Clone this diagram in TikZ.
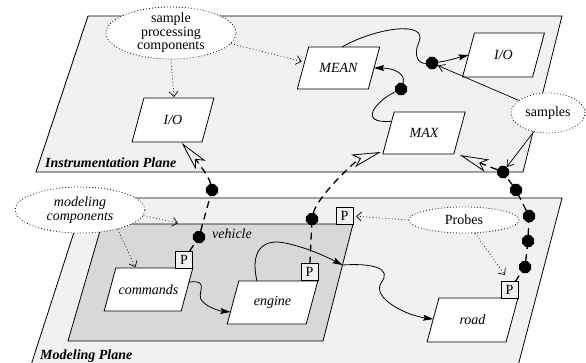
\documentclass[tikz,border=0pt]{standalone}
\usepackage{fontspec}
\setmainfont{Liberation Serif}
\usetikzlibrary{shapes.geometric,arrows.meta,calc}
\definecolor{planefill}{HTML}{F1F1F1}
\definecolor{groupfill}{HTML}{D8D8D8}
\newcommand{\lblfont}{\fontsize{14}{13.5}\selectfont}
% slanted component box: name, centre x, centre y, top edge length, height, label
\newcommand{\slantbox}[6]{%
  \path (#2,#3) +({-#4/2+0.135*#5},{-#5/2}) coordinate (#1-tl)
                +({#4/2+0.135*#5},{-#5/2}) coordinate (#1-tr)
                +({#4/2-0.135*#5},{#5/2}) coordinate (#1-br)
                +({-#4/2-0.135*#5},{#5/2}) coordinate (#1-bl);
  \draw[boxline] (#1-tl) -- (#1-tr) -- (#1-br) -- (#1-bl) -- cycle;
  \node[boxlabel] (#1) at (#2,#3) {#6};}
\begin{document}
\begin{tikzpicture}[x=1pt,y=-1pt,
  every node/.style={font=\lblfont},
  plane/.style={fill=planefill,draw=black,line width=0.8pt},
  planelabel/.style={anchor=base west,inner sep=0pt,font=\lblfont\bfseries\itshape},
  boxline/.style={draw=black,line width=0.8pt,fill=white},
  boxlabel/.style={inner sep=1pt,font=\lblfont\itshape},
  probe/.style={draw,line width=0.8pt,fill=planefill,minimum size=17pt,
    inner sep=0pt,outer sep=0pt},
  dot/.style={regular polygon,regular polygon sides=8,fill=black,
    minimum size=13pt,inner sep=0pt,outer sep=0pt},
  note/.style={ellipse,draw,line width=0.8pt,dash pattern=on 0.8pt off 2.2pt,
    fill=white,inner sep=0pt,align=center},
  notearrow/.style={line width=0.7pt,dash pattern=on 0.8pt off 2.4pt,
    -{Straight Barb[length=5pt,width=9pt]}},
  flow/.style={line width=0.8pt,-{Stealth[length=10pt,width=6pt,inset=1.5pt]}},
  wire/.style={line width=0.8pt},
  link/.style={line width=1.3pt,dash pattern=on 7pt off 5pt},
  bigtip/.style={-{Stealth[open,length=29pt,width=13pt,inset=7pt,line width=0.8pt]}},
  feed/.style={line width=0.7pt,-{Straight Barb[length=6pt,width=8pt]}}
]
\useasboundingbox (0,0) rectangle (586,362);
\clip (0,0) rectangle (586,362);

% the two planes and the vehicle group
\draw[plane] (88,16) -- (562,16) -- (523,172) -- (36,172) -- cycle;
\draw[plane] (85,198) -- (562,198) -- (516.4,372) -- (28.8,372) -- cycle;
\draw[line width=0.8pt,fill=groupfill] (102,224) -- (353,224) -- (323,341) -- (68,341) -- cycle;
\coordinate (vport) at (342.5,265);
\coordinate (vtop) at (178,223);

% plane and group labels
\node[planelabel] (iplane) at (45,167.5) {Instrumentation Plane};
\node[planelabel] (mplane) at (40,359) {Modeling Plane};
\node[anchor=base west,inner sep=0pt,font=\lblfont\itshape] (vlabel) at (212,238) {vehicle};

% components
\slantbox{io1}{173}{120}{70}{44}{I/O}
\slantbox{mean}{338.5}{68}{71}{42}{MEAN}
\slantbox{io2}{503.5}{55}{70}{44}{I/O}
\slantbox{max}{424}{133}{71}{42}{MAX}
\slantbox{commands}{148.5}{289.5}{77}{43}{commands}
\slantbox{engine}{272.5}{302.5}{79}{43}{engine}
\slantbox{road}{472.5}{320}{79}{44}{road}

% probes
\node[probe] (pcmd) at (184,259.5) {P};
\node[probe] (peng) at (309.5,272) {P};
\node[probe] (pveh) at (344.5,216) {P};
\node[probe] (proad) at (509.5,290) {P};

% junction dots
\node[dot] (dv) at (199,237) {};
\node[dot] (d1) at (212,190) {};
\node[dot] (de) at (312,219) {};
\node[dot] (dr1) at (525,267) {};
\node[dot] (dr2) at (528,241) {};
\node[dot] (dr3) at (529,216) {};
\node[dot] (dr4) at (516,190) {};
\node[dot] (dr5) at (503,172) {};
\node[dot] (dm) at (401,89) {};
\node[dot] (di) at (432,63) {};

% annotations
\node[note,minimum width=130pt,minimum height=52pt,inner ysep=-4pt] (spc) at (171,33) {sample\\processing\\components};
\node[note,minimum width=74pt,minimum height=40pt] (samples) at (548,113) {samples};
\node[note,minimum width=130pt,minimum height=46pt,font=\lblfont\itshape] (mc) at (80,210) {modeling\\components};
\node[note,minimum width=110pt,minimum height=26pt] (probes) at (464,220) {Probes};

% sample processing flows
\draw[wire] ($(max-tl)!0.22!(max-bl)$) .. controls +(-35,3) and +(-25,12) .. (dm);
\draw[flow] (dm) .. controls +(5,-15) and +(20,0) .. ($(mean-tr)!0.5!(mean-br)$);
\draw[wire] ($(mean-tl)!0.47!(mean-tr)$) .. controls (375,28) and (428,20) .. (419,42) .. controls (413,55) and (418,64) .. (di);
\draw[flow] (di) .. controls +(15,-2) and +(-12,3) .. ($(io2-tl)!0.5!(io2-bl)$);
\draw[feed] (samples) -- (di);
\draw[feed] (samples) -- (dr5);

% probe links up to the instrumentation plane
\draw[link] (pcmd) -- (dv);
\draw[link] (dv) -- (d1);
\draw[link,bigtip] (d1) .. controls +(-3,-14) and +(12,14) .. ($(io1-bl)!0.71!(io1-br)+(0,1)$);
\draw[link] (peng) -- (de);
\draw[link,bigtip] (de) .. controls +(5,-22) and +(-25,8) .. ($(max-bl)+(-2,-2)$);
\draw[link] (proad) -- (dr1);
\draw[link] (dr1) -- (dr2);
\draw[link] (dr2) -- (dr3);
\draw[link] (dr3) -- (dr4);
\draw[link] (dr4) -- (dr5);
\draw[link,bigtip] (dr5) -- ($(max-br)+(6,1)$);

% modeling flows
\draw[flow] ($(commands-tr)!0.33!(commands-br)$) .. controls (212,279) and (194,295) .. (203,302) .. controls (209,308) and (220,311) .. ($(engine-tl)!0.72!(engine-bl)$);
\draw[flow] ($(engine-tl)!0.23!(engine-tr)$) .. controls (250,252) and (262,238) .. (285,243) .. controls (305,247) and (325,256) .. (vport);
\draw[flow] (vport) .. controls (372,263) and (393,268) .. (381,283) .. controls (372,298) and (405,315) .. ($(road-tl)!0.48!(road-bl)$);

% annotation pointers
\draw[notearrow,shorten >=1pt] (spc.south) -- ($(io1-tl)!0.43!(io1-tr)$);
\draw[notearrow,shorten >=3pt] (spc.-10) -- ($(mean-tl)!0.36!(mean-bl)$);
\draw[notearrow,shorten >=1pt] (mc.-27) -- ($(commands-tl)!0.26!(commands-tr)$);
\draw[notearrow] (mc.-5) -- (vtop);
\draw[notearrow,shorten >=3pt] (probes.west) -- (pveh.east);
\draw[notearrow,shorten >=8pt] (probes.-50) -- (proad.north);
\end{tikzpicture}
\end{document}
